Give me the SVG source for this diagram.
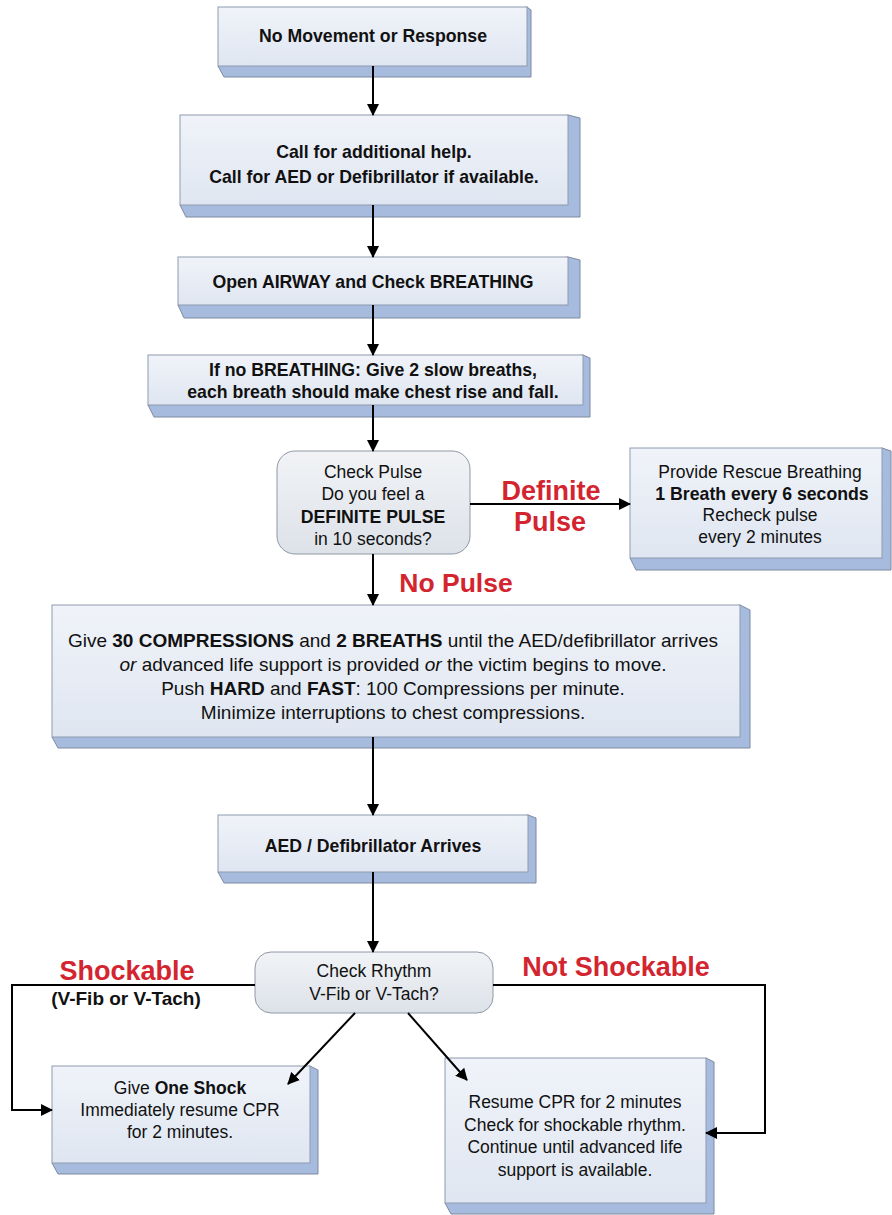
<svg xmlns="http://www.w3.org/2000/svg" width="892" height="1215" viewBox="0 0 892 1215">
<defs>
<linearGradient id="face" x1="0" y1="0" x2="0" y2="1">
<stop offset="0" stop-color="#f0f3f9"/>
<stop offset="1" stop-color="#dfe6f1"/>
</linearGradient>
<linearGradient id="grey" x1="0" y1="0" x2="0" y2="1">
<stop offset="0" stop-color="#f1f3f6"/>
<stop offset="1" stop-color="#dde2e9"/>
</linearGradient>
<marker id="ah" viewBox="0 0 12 12" refX="11" refY="6" markerWidth="12" markerHeight="12" markerUnits="userSpaceOnUse" orient="auto">
<path d="M0,0 L12,6 L0,12 Z" fill="#000"/>
</marker>
</defs>
<style>
.face{fill:url(#face);stroke:#8e9bb0;stroke-width:1}
.slab{fill:#a6bbdd;stroke:#7d8aa0;stroke-width:1}
.rnd{fill:url(#grey);stroke:#8f98a6;stroke-width:1}
.ca{stroke:#000;stroke-width:2;fill:none;marker-end:url(#ah)}
text{font-family:"Liberation Sans",Arial,sans-serif;fill:#111;text-anchor:middle}
.b{font-weight:bold;font-size:17.7px}
.r{font-size:17.5px}
.cpr{font-size:19px}
.red{font-weight:bold;font-size:27px;fill:#d3252f}
.bl{font-weight:bold}
</style>
<rect width="892" height="1215" fill="#fff"/>

<g id="n1">
<polygon class="slab" points="218,66 224,77 531,77 531,10 527,7"/>
<rect class="face" x="218" y="7" width="309" height="59"/>
<text class="b" x="373" y="42">No Movement or Response</text>
</g>

<g id="n2">
<polygon class="slab" points="180,205 186,217 580,217 580,118 568,115"/>
<rect class="face" x="180" y="115" width="388" height="90"/>
<text class="b" x="374" y="158">Call for additional help.</text>
<text class="b" x="374" y="183">Call for AED or Defibrillator if available.</text>
</g>

<g id="n3">
<polygon class="slab" points="178,305 184,318 580,318 580,260 568,257"/>
<rect class="face" x="178" y="257" width="390" height="48"/>
<text class="b" x="373" y="288">Open AIRWAY and Check BREATHING</text>
</g>

<g id="n4">
<polygon class="slab" points="148,405 154,417 590,417 590,358 583,355"/>
<rect class="face" x="148" y="355" width="435" height="50"/>
<text class="b" x="373" y="376">If no BREATHING: Give 2 slow breaths,</text>
<text class="b" x="373" y="398">each breath should make chest rise and fall.</text>
</g>

<g id="n5">
<rect class="rnd" x="277" y="451" width="193" height="103" rx="18"/>
<text class="r" x="373" y="478">Check Pulse</text>
<text class="r" x="373" y="500">Do you feel a</text>
<text class="b" x="373" y="523">DEFINITE PULSE</text>
<text class="r" x="373" y="545">in 10 seconds?</text>
</g>

<g id="n6">
<polygon class="slab" points="630,558 636,570 891,570 891,451 882,448"/>
<rect class="face" x="630" y="448" width="252" height="110"/>
<text class="r" x="760" y="478">Provide Rescue Breathing</text>
<text class="b" x="762" y="500">1 Breath every 6 seconds</text>
<text class="r" x="760" y="521">Recheck pulse</text>
<text class="r" x="760" y="543">every 2 minutes</text>
</g>

<g id="n7">
<polygon class="slab" points="52,737 58,748 750,748 750,610 740,605"/>
<rect class="face" x="52" y="605" width="688" height="132"/>
<text class="cpr" x="393" y="647">Give <tspan class="bl">30 COMPRESSIONS</tspan> and <tspan class="bl">2 BREATHS</tspan> until the AED/defibrillator arrives</text>
<text class="cpr" x="393" y="671"><tspan font-style="italic">or</tspan> advanced life support is provided <tspan font-style="italic">or</tspan> the victim begins to move.</text>
<text class="cpr" x="393" y="695">Push <tspan class="bl">HARD</tspan> and <tspan class="bl">FAST</tspan>: 100 Compressions per minute.</text>
<text class="cpr" x="393" y="719">Minimize interruptions to chest compressions.</text>
</g>

<g id="n8">
<polygon class="slab" points="218,872 224,883 536,883 536,818 528,815"/>
<rect class="face" x="218" y="815" width="310" height="57"/>
<text class="b" x="373" y="852">AED / Defibrillator Arrives</text>
</g>

<g id="n9">
<rect class="rnd" x="255" y="952" width="238" height="61" rx="16"/>
<text class="r" x="374" y="977">Check Rhythm</text>
<text class="r" x="374" y="1000">V-Fib or V-Tach?</text>
</g>

<g id="n10">
<polygon class="slab" points="52,1163 58,1174 318,1174 318,1070 310,1066"/>
<rect class="face" x="52" y="1066" width="258" height="97"/>
<text class="r" x="180" y="1094">Give <tspan class="bl">One Shock</tspan></text>
<text class="r" x="180" y="1116">Immediately resume CPR</text>
<text class="r" x="180" y="1138">for 2 minutes.</text>
</g>

<g id="n11">
<polygon class="slab" points="445,1203 451,1214 714,1214 714,1062 706,1058"/>
<rect class="face" x="445" y="1058" width="261" height="145"/>
<text class="r" x="575" y="1108">Resume CPR for 2 minutes</text>
<text class="r" x="575" y="1131">Check for shockable rhythm.</text>
<text class="r" x="575" y="1153">Continue until advanced life</text>
<text class="r" x="575" y="1176">support is available.</text>
</g>

<g id="connectors">
<line class="ca" x1="373" y1="66" x2="373" y2="115"/>
<line class="ca" x1="373" y1="205" x2="373" y2="257"/>
<line class="ca" x1="373" y1="305" x2="373" y2="355"/>
<line class="ca" x1="373" y1="405" x2="373" y2="451"/>
<line class="ca" x1="470" y1="504" x2="630" y2="504"/>
<line class="ca" x1="373" y1="554" x2="373" y2="605"/>
<line class="ca" x1="373" y1="737" x2="373" y2="815"/>
<line class="ca" x1="373" y1="872" x2="373" y2="952"/>
<polyline class="ca" points="255,985 12,985 12,1110 52,1110"/>
<polyline class="ca" points="493,985 765,985 765,1133 706,1133"/>
<line class="ca" x1="355" y1="1013" x2="288" y2="1084"/>
<line class="ca" x1="408" y1="1013" x2="467" y2="1080"/>
</g>

<g id="labels">
<text class="red" x="551" y="500">Definite</text>
<text class="red" x="550" y="531">Pulse</text>
<text class="red" x="456" y="592" style="font-size:26.5px">No Pulse</text>
<text class="red" x="127" y="980">Shockable</text>
<text class="b" x="126" y="1005" style="font-size:19px">(V-Fib or V-Tach)</text>
<text class="red" x="616" y="976">Not Shockable</text>
</g>
</svg>
